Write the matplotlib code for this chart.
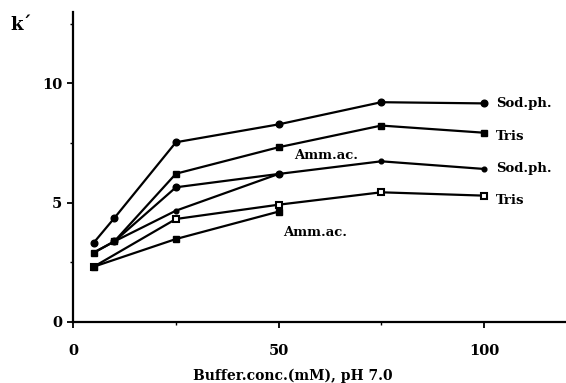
import numpy as np
import matplotlib.pyplot as plt
from matplotlib.ticker import MultipleLocator

# buffer concentrations (mM)
conc_sod_hi = [5, 10, 25, 50, 75, 100]
k_sod_hi = [3.32, 4.35, 7.53, 8.28, 9.21, 9.16]

conc_tris_hi = [5, 10, 25, 50, 75, 100]
k_tris_hi = [2.90, 3.37, 6.21, 7.32, 8.23, 7.93]

conc_amm_hi = [10, 25, 50]
k_amm_hi = [3.37, 5.64, 6.20]

conc_sod_lo = [5, 10, 25, 50, 75, 100]
k_sod_lo = [2.90, 3.37, 4.66, 6.20, 6.73, 6.41]

conc_tris_lo = [5, 25, 50, 75, 100]
k_tris_lo = [2.31, 4.31, 4.91, 5.43, 5.29]

conc_amm_lo = [5, 25, 50]
k_amm_lo = [2.31, 3.47, 4.62]

font = dict(family='DejaVu Serif', weight='bold')

fig = plt.figure(figsize=(5.66, 3.83), dpi=100)
ax = fig.add_axes([0.1295, 0.160, 0.8705, 0.809])

lw = 1.6
ax.plot(conc_sod_hi, k_sod_hi, '-o', color='black', lw=lw, ms=4.8)
ax.plot(conc_tris_hi, k_tris_hi, '-s', color='black', lw=lw, ms=4.8)
ax.plot(conc_amm_hi, k_amm_hi, '-o', color='black', lw=lw, ms=4.8)
ax.plot(conc_sod_lo, k_sod_lo, '-o', color='black', lw=lw, ms=3.4)
ax.plot(conc_tris_lo, k_tris_lo, '-s', color='black', lw=lw, ms=5,
        mfc='white', mew=1.5)
ax.plot(conc_amm_lo, k_amm_lo, '-s', color='black', lw=lw, ms=4.8)

# series labels at the line ends
ax.text(103, k_sod_hi[-1], 'Sod.ph.', va='center', fontsize=9.5, **font)
ax.text(103, 7.77, 'Tris', va='center', fontsize=9.5, **font)
ax.text(103, k_sod_lo[-1], 'Sod.ph.', va='center', fontsize=9.5, **font)
ax.text(103, 5.09, 'Tris', va='center', fontsize=9.5, **font)
ax.text(53.8, 6.97, 'Amm.ac.', va='center', fontsize=9.5, **font)
ax.text(51.0, 3.74, 'Amm.ac.', va='center', fontsize=9.5, **font)

ax.set_xlim(0, 120)
ax.set_ylim(0, 13)
ax.xaxis.set_major_locator(MultipleLocator(50))
ax.xaxis.set_minor_locator(MultipleLocator(25))
ax.yaxis.set_major_locator(MultipleLocator(5))
ax.yaxis.set_minor_locator(MultipleLocator(2.5))

for side in ['top', 'right']:
    ax.spines[side].set_visible(False)
for side in ['left', 'bottom']:
    ax.spines[side].set_linewidth(1.6)

ax.tick_params(axis='both', which='major', length=4, width=1.3, labelsize=10.5)
ax.tick_params(axis='both', which='minor', length=2, width=1.0)
ax.tick_params(axis='x', which='major', pad=12)
ax.tick_params(axis='y', which='major', pad=4)
for lab in ax.get_xticklabels() + ax.get_yticklabels():
    lab.set_fontfamily('DejaVu Serif')
    lab.set_fontweight('bold')

ax.set_xlabel('Buffer.conc.(mM), pH 7.0', fontsize=10, **font)
ax.xaxis.set_label_coords(0.446, -0.15)

fig.text(0.018, 0.935, 'k\u00b4', fontsize=13, ha='left', va='center', **font)

fig.savefig('out.png', dpi=100)
